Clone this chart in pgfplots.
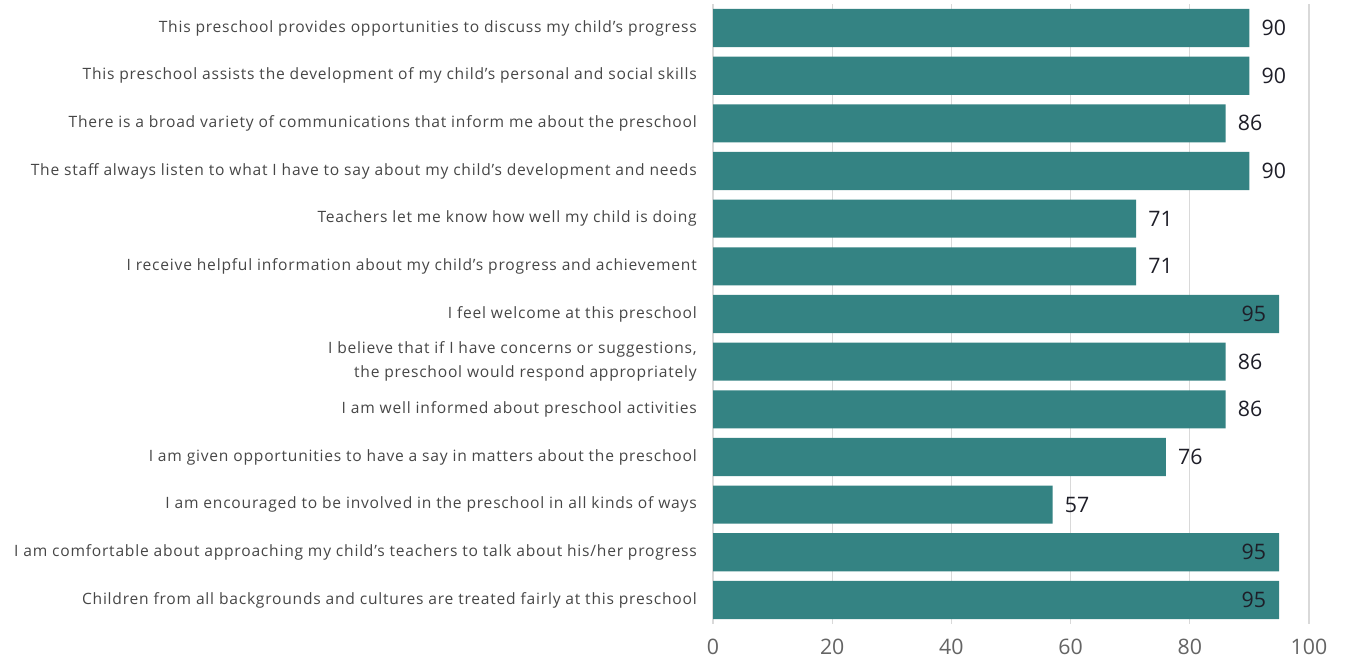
\documentclass[border=0pt]{standalone}
\usepackage{pgfplots}
\pgfplotsset{compat=1.18}
\usepackage{fontspec}
\setmainfont{Open Sans}
\newfontfamily\labfont[LetterSpace=5,Ligatures=TeX]{Open Sans}
\definecolor{barc}{RGB}{52,131,131}
\definecolor{lab}{RGB}{70,70,70}
\definecolor{tlab}{RGB}{100,100,100}
\definecolor{val}{RGB}{30,30,40}
\definecolor{gridc}{RGB}{217,217,217}
\begin{document}
\begin{tikzpicture}
\useasboundingbox (0,0) rectangle (1011pt,497.25pt);
\begin{axis}[
  at={(534.75pt,29.4pt)}, anchor=south west,
  scale only axis, width=447pt, height=464.7pt,
  xbar, xmin=0, xmax=100, ymin=-0.5, ymax=12.5, y dir=reverse,
  bar width=0.8, bar shift=0pt,
  axis line style={draw=none},
  major tick length=0pt,
  xtick={0,20,...,100}, xmajorgrids, grid style={gridc, line width=0.9pt},
  ytick={0,...,12},
  yticklabels={
    {This preschool provides opportunities to discuss my child's progress},
    {This preschool assists the development of my child's personal and social skills},
    {There is a broad variety of communications that inform me about the preschool},
    {The staff always listen to what I have to say about my child's development and needs},
    {Teachers let me know how well my child is doing},
    {I receive helpful information about my child's progress and achievement},
    {I feel welcome at this preschool},
    {I believe that if I have concerns or suggestions,\\the preschool would respond appropriately},
    {I am well informed about preschool activities},
    {I am given opportunities to have a say in matters about the preschool},
    {I am encouraged to be involved in the preschool in all kinds of ways},
    {I am comfortable about approaching my child's teachers to talk about his/her progress},
    {Children from all backgrounds and cultures are treated fairly at this preschool}},
  yticklabel style={align=right, inner sep=0pt, xshift=-12pt, text=lab, font=\labfont\fontsize{11.7}{18}\selectfont},
  xticklabel style={inner sep=0pt, yshift=-11pt, text=tlab, font=\fontsize{16}{19}\selectfont},
  /pgf/number format/assume math mode=true,
  nodes near coords,
  nodes near coords style={font=\fontsize{16}{19}\selectfont, text=val, inner sep=0pt},
]
\addplot[fill=barc, draw=none, nodes near coords style={anchor=west, xshift=9pt}]
  coordinates {(90,0) (90,1) (86,2) (90,3) (71,4) (71,5) (86,7) (86,8) (76,9) (57,10)};
\addplot[fill=barc, draw=none, nodes near coords style={anchor=east, xshift=-9.75pt}]
  coordinates {(95,6) (95,11) (95,12)};
\end{axis}
\end{tikzpicture}
\end{document}
